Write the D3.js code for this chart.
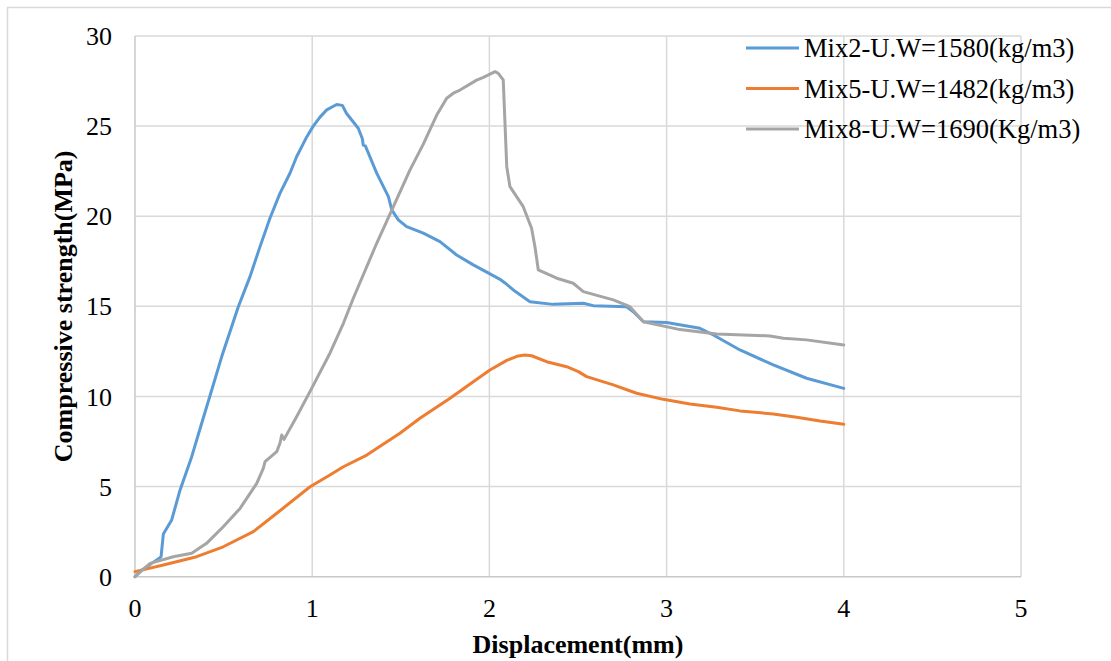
<!DOCTYPE html>
<html>
<head>
<meta charset="utf-8">
<script src="https://cdn.jsdelivr.net/npm/d3@7"></script>
<style>
  html, body { margin: 0; padding: 0; background: #fff; }
  svg { display: block; }
  svg text { font-family: "Liberation Serif", "Times New Roman", "DejaVu Serif", serif; }
</style>
</head>
<body>
<svg id="chart" width="1111" height="661"></svg>
<script>
// Series: [displacement (mm), strength (MPa)]
const mix2 = [
  [0, 0], [0.03, 0.3], [0.147, 1.1], [0.16, 2.37], [0.207, 3.15], [0.254, 4.8],
  [0.32, 6.66], [0.376, 8.5], [0.433, 10.36], [0.489, 12.2], [0.583, 14.98],
  [0.649, 16.65], [0.705, 18.3], [0.762, 19.9], [0.818, 21.27], [0.875, 22.4],
  [0.912, 23.3], [0.969, 24.4], [1.006, 25.0], [1.044, 25.5], [1.082, 25.9],
  [1.138, 26.2], [1.17, 26.15], [1.194, 25.7], [1.26, 24.88], [1.283, 24.3],
  [1.288, 23.95], [1.3, 23.9], [1.364, 22.39], [1.43, 21.09], [1.449, 20.35],
  [1.486, 19.8], [1.533, 19.42], [1.627, 19.06], [1.721, 18.59], [1.815, 17.85],
  [1.909, 17.3], [1.985, 16.9], [2.06, 16.5], [2.088, 16.3], [2.135, 15.91],
  [2.229, 15.26], [2.36, 15.11], [2.53, 15.17], [2.586, 15.04], [2.775, 14.98],
  [2.812, 14.7], [2.869, 14.15], [3.0, 14.1], [3.188, 13.78], [3.264, 13.41],
  [3.414, 12.58], [3.602, 11.75], [3.79, 11.01], [4.0, 10.45]
];
const mix5 = [
  [0, 0.28], [0.16, 0.65], [0.348, 1.11], [0.498, 1.66], [0.668, 2.5], [0.8, 3.52],
  [0.988, 4.99], [1.1, 5.64], [1.176, 6.1], [1.308, 6.75], [1.495, 7.96],
  [1.608, 8.79], [1.778, 9.9], [1.909, 10.82], [2.003, 11.47], [2.098, 12.0],
  [2.163, 12.25], [2.2, 12.3], [2.238, 12.26], [2.323, 11.93], [2.436, 11.65],
  [2.502, 11.38], [2.549, 11.1], [2.699, 10.64], [2.831, 10.18], [2.981, 9.84],
  [3.132, 9.58], [3.283, 9.4], [3.414, 9.2], [3.602, 9.03], [3.734, 8.85],
  [3.866, 8.64], [4.0, 8.46]
];
const mix8 = [
  [0, 0], [0.085, 0.74], [0.216, 1.11], [0.32, 1.3], [0.404, 1.85], [0.498, 2.77],
  [0.593, 3.79], [0.687, 5.18], [0.724, 6.01], [0.734, 6.38], [0.8, 6.94],
  [0.818, 7.4], [0.828, 7.86], [0.841, 7.62], [0.912, 8.88], [0.997, 10.45],
  [1.1, 12.4], [1.176, 14.06], [1.232, 15.45], [1.364, 18.5], [1.458, 20.53],
  [1.552, 22.57], [1.627, 24.0], [1.702, 25.6], [1.759, 26.55], [1.8, 26.85],
  [1.834, 27.0], [1.928, 27.55], [1.966, 27.71], [2.032, 28.02], [2.05, 27.93],
  [2.078, 27.56], [2.098, 22.75], [2.116, 21.64], [2.191, 20.53], [2.238, 19.33],
  [2.257, 18.31], [2.276, 17.02], [2.38, 16.56], [2.473, 16.28], [2.53, 15.82],
  [2.699, 15.36], [2.793, 14.98], [2.869, 14.15], [3.076, 13.71], [3.283, 13.47],
  [3.584, 13.36], [3.659, 13.23], [3.79, 13.14], [4.0, 12.86]
];

const seriesNames = ["Mix2-U.W=1580(kg/m3)", "Mix5-U.W=1482(kg/m3)", "Mix8-U.W=1690(Kg/m3)"];
const seriesColors = ["#5b9bd5", "#ed7d31", "#a5a5a5"];
const xTicks = [0, 1, 2, 3, 4, 5];
const yTicks = [0, 5, 10, 15, 20, 25, 30];

const svg = d3.select("#chart");
const margin = { left: 135, top: 36, right: 1021, bottom: 576.7 };

const x = d3.scaleLinear().domain([0, 5]).range([margin.left, margin.right]);
const y = d3.scaleLinear().domain([0, 30]).range([margin.bottom, margin.top]);

// outer chart border (cut off at right/bottom like the reference)
svg.append("rect")
  .attr("x", 7.5).attr("y", 7.5)
  .attr("width", 1120).attr("height", 670)
  .attr("fill", "none").attr("stroke", "#d9d9d9").attr("stroke-width", 1.5);

// gridlines
const grid = svg.append("g").attr("stroke", "#d9d9d9").attr("stroke-width", 1.5);
grid.selectAll(".gx").data(xTicks.slice(1)).join("line")
  .attr("x1", d => x(d)).attr("x2", d => x(d))
  .attr("y1", y(0)).attr("y2", y(30));
grid.selectAll(".gy").data(yTicks.slice(1)).join("line")
  .attr("x1", x(0)).attr("x2", x(5))
  .attr("y1", d => y(d)).attr("y2", d => y(d));

// axis lines
svg.append("line").attr("x1", x(0)).attr("x2", x(5)).attr("y1", y(0)).attr("y2", y(0))
  .attr("stroke", "#c8c8c8").attr("stroke-width", 1.5);
svg.append("line").attr("x1", x(0)).attr("x2", x(0)).attr("y1", y(0)).attr("y2", y(30))
  .attr("stroke", "#c8c8c8").attr("stroke-width", 1.5);

// tick labels
svg.append("g").selectAll("text").data(yTicks).join("text")
  .attr("x", 112).attr("y", d => y(d)).attr("dy", "0.35em")
  .attr("text-anchor", "end").attr("font-size", 26).attr("fill", "#000")
  .text(d => d);
svg.append("g").selectAll("text").data(xTicks).join("text")
  .attr("x", d => x(d)).attr("y", 617)
  .attr("text-anchor", "middle").attr("font-size", 26).attr("fill", "#000")
  .text(d => d);

// axis titles
svg.append("text")
  .attr("x", x(2.5)).attr("y", 653)
  .attr("text-anchor", "middle").attr("font-size", 26).attr("font-weight", "bold")
  .text("Displacement(mm)");
svg.append("text")
  .attr("transform", `translate(72,${y(15)}) rotate(-90)`)
  .attr("text-anchor", "middle").attr("font-size", 26).attr("font-weight", "bold")
  .text("Compressive strength(MPa)");

// lines
const line = d3.line().x(d => x(d[0])).y(d => y(d[1]));
[mix2, mix5, mix8].forEach((data, i) => {
  svg.append("path").datum(data)
    .attr("fill", "none")
    .attr("stroke", seriesColors[i])
    .attr("stroke-width", 3)
    .attr("stroke-linejoin", "round")
    .attr("stroke-linecap", "round")
    .attr("d", line);
});

// legend
const legend = svg.append("g");
seriesNames.forEach((name, i) => {
  const ly = 48 + i * 40.5;
  legend.append("line")
    .attr("x1", 746).attr("x2", 799).attr("y1", ly).attr("y2", ly)
    .attr("stroke", seriesColors[i]).attr("stroke-width", 3);
  legend.append("text")
    .attr("x", 804).attr("y", ly).attr("dy", "0.35em")
    .attr("font-size", 26.5).attr("fill", "#000")
    .text(name);
});
</script>
</body>
</html>
